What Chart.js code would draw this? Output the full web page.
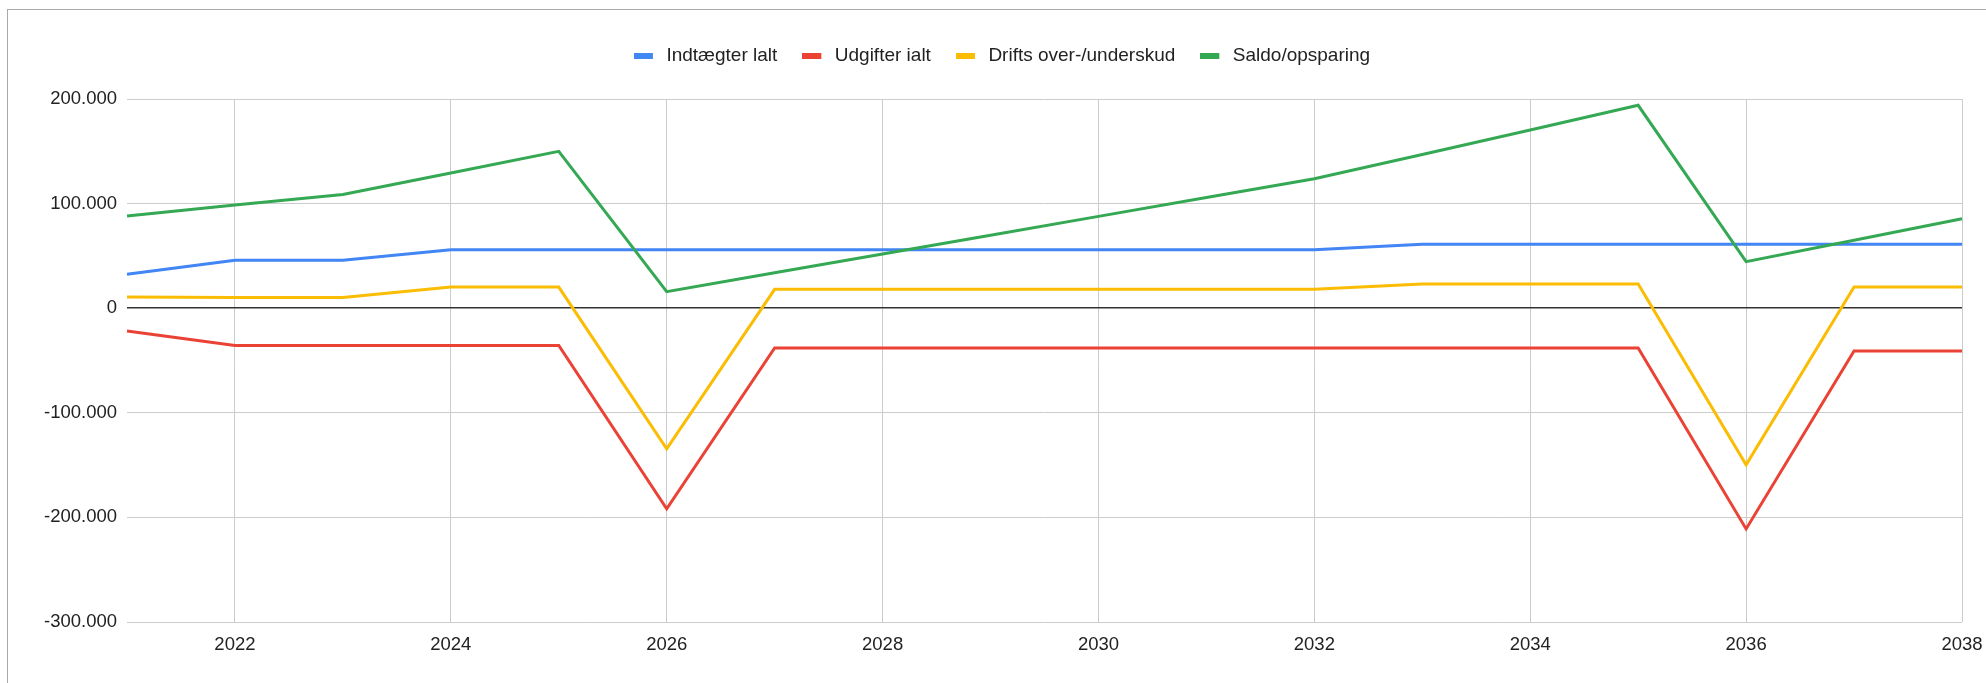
<html>
<head>
<script src="https://cdn.jsdelivr.net/npm/chart.js@4.4.0/dist/chart.umd.min.js"></script>
<style>
body{margin:0;background:#fff;}
#frame{
position:absolute;left:7px;top:9px;right:0;bottom:0;
border-left:1px solid #aaa;border-top:1px solid #aaa;
}
</style>
</head>
<body>
<div id="frame"><canvas id="budget"></canvas></div>
<script>
// years on the x axis
var years = [2021,2022,2023,2024,2025,2026,2027,2028,2029,2030,2031,2032,2033,2034,2035,2036,2037,2038];

var indtaegter = [32500,45900,45900,55900,55900,55900,55900,55900,55900,55900,55900,55900,61100,61100,61100,61100,61100,61100];
var udgifter   = [-21700,-35700,-35700,-35700,-35700,-191700,-38000,-38000,-38000,-38000,-38000,-38000,-38000,-38000,-38000,-211000,-40800,-40800];
var drifts     = [10800,10200,10200,20200,20200,-134500,18000,18000,18000,18000,18000,18000,23200,23200,23200,-149800,20300,20300];
var saldo      = [88200,98600,108800,129300,150000,15800,33800,51800,69800,87800,105800,123800,147000,170300,194000,44500,65000,85500];

var yTicks = [-300000,-200000,-100000,0,100000,200000];

function fmt(v){
  var s = String(Math.abs(v)).replace(/\B(?=(\d{3})+(?!\d))/g,'.');
  return (v<0?'-':'')+s;
}

var font = {family:'"Liberation Sans", Arial, sans-serif', size:18.5};
var legendFont = {family:'"Liberation Sans", Arial, sans-serif', size:19};

// small legend swatch: coloured bar with some empty space after it
function swatch(color){
  var c = document.createElement('canvas');
  c.width = 23; c.height = 6;
  var g = c.getContext('2d');
  g.fillStyle = color;
  g.fillRect(0,0,19,6);
  return c;
}

var legendHeight = {
  id:'legendHeight',
  beforeInit:function(chart){
    var fit = chart.legend.fit;
    chart.legend.fit = function(){ fit.call(this); this.height = 78; };
  }
};

function ds(label,data,color,order){
  return {label:label,data:data,borderColor:color,backgroundColor:color,
    borderWidth:3,pointRadius:0,pointHoverRadius:0,pointStyle:swatch(color),
    tension:0,fill:false,order:order};
}

var ctx = document.getElementById('budget').getContext('2d');
var chart = new Chart(ctx,{
  type:'line',
  data:{
    labels:years,
    datasets:[
      ds('Indtægter lalt',indtaegter,'#4285F4',4),
      ds('Udgifter ialt',udgifter,'#EA4335',3),
      ds('Drifts over-/underskud',drifts,'#FBBC04',2),
      ds('Saldo/opsparing',saldo,'#34A853',1)
    ]
  },
  plugins:[legendHeight],
  options:{
    responsive:true,
    maintainAspectRatio:false,
    animation:false,
    layout:{padding:{left:34,right:24,top:11,bottom:0}},
    plugins:{
      legend:{
        position:'top',
        labels:{usePointStyle:true,pointStyleWidth:23,boxHeight:6,padding:25,color:'#222',font:legendFont,
          sort:function(a,b){return a.datasetIndex-b.datasetIndex;}}
      },
      tooltip:{enabled:false}
    },
    scales:{
      x:{
        offset:false,
        border:{display:false},
        grid:{drawTicks:false,
          color:function(c){ return years[c.index]%2==0 ? '#cccccc' : 'rgba(0,0,0,0)'; }},
        ticks:{autoSkip:false,maxRotation:0,padding:12,color:'#222',font:font,
          callback:function(v,i){ return years[i]%2==0 ? String(years[i]) : ''; }},
        afterFit:function(s){ s.height = 61; s.paddingRight = 0; s.paddingLeft = 0; }
      },
      y:{
        min:-300000,max:200000,
        border:{display:false},
        afterBuildTicks:function(s){ s.ticks = yTicks.map(function(v){return {value:v};}); },
        grid:{drawTicks:false,
          color:function(c){ return c.tick && c.tick.value===0 ? '#333333' : '#cccccc'; },
          lineWidth:function(c){ return c.tick && c.tick.value===0 ? 1.5 : 1; }},
        ticks:{padding:10,color:'#222',font:font,callback:function(v){ return fmt(v); }},
        afterFit:function(s){ s.width = 85; }
      }
    }
  }
});
</script>
</body>
</html>
